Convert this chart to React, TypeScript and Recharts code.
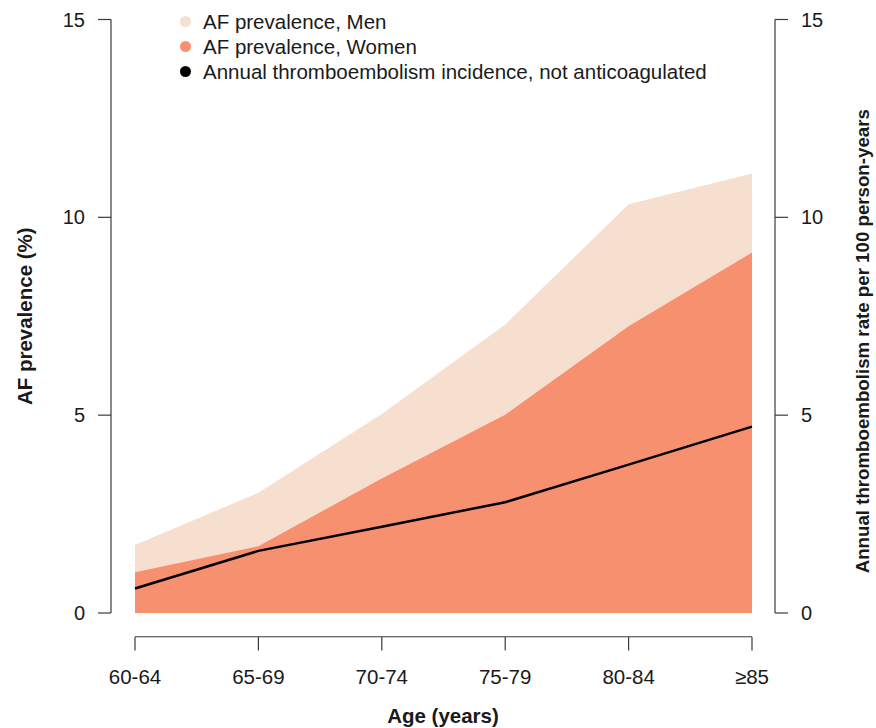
import React from "react";
import { ComposedChart, Area, Line, XAxis, YAxis, Legend, ReferenceLine, Label } from "recharts";

const AGE_GROUPS = ["60-64", "65-69", "70-74", "75-79", "80-84", "≥85"];
const AF_MEN = [1.72, 3.04, 5.03, 7.29, 10.33, 11.11];
const AF_WOMEN = [1.03, 1.69, 3.4, 5.01, 7.25, 9.11];
const TE_RATE = [0.62, 1.57, 2.18, 2.8, 3.75, 4.71];
const Y_TICKS = [0, 5, 10, 15];

const MEN_COLOR = "#f7dfd0";
const WOMEN_COLOR = "#f7906f";
const LINE_COLOR = "#000000";
const AXIS_COLOR = "#3a3a3a";
const TEXT_COLOR = "#1a1a1a";

const LEGEND_ITEMS = [
  { name: "AF prevalence, Men", color: MEN_COLOR },
  { name: "AF prevalence, Women", color: WOMEN_COLOR },
  { name: "Annual thromboembolism incidence, not anticoagulated", color: LINE_COLOR },
];

const data = AGE_GROUPS.map((age, i) => ({
  age,
  men: AF_MEN[i],
  women: AF_WOMEN[i],
  te: TE_RATE[i],
}));

// x axis sits detached below the plot, R style
function AgeTick(props: any) {
  const { x, y, payload } = props;
  return (
    <g>
      <line x1={x} x2={x} y1={y + 24} y2={y + 37.5} stroke={AXIS_COLOR} strokeWidth={1.2} />
      <text x={x} y={y + 71} textAnchor="middle" fontSize={20.5} fill={TEXT_COLOR}>
        {payload.value}
      </text>
    </g>
  );
}

// right title is a bit smaller and sits lower than the axis centre
function RightTitle(props: any) {
  const { viewBox } = props;
  const x = viewBox.x + viewBox.width - 14;
  const y = viewBox.y + viewBox.height / 2 + 25;
  return (
    <text
      x={x}
      y={y}
      transform={`rotate(-90, ${x}, ${y})`}
      textAnchor="middle"
      dominantBaseline="central"
      fontSize={18.7}
      fontWeight="bold"
      fill={TEXT_COLOR}
    >
      Annual thromboembolism rate per 100 person-years
    </text>
  );
}

function renderLegend() {
  return (
    <div style={{ fontSize: 20.5, lineHeight: "25px", color: TEXT_COLOR }}>
      {LEGEND_ITEMS.map((item) => (
        <div key={item.name} style={{ display: "flex", alignItems: "center", whiteSpace: "nowrap" }}>
          <span
            style={{
              display: "inline-block",
              width: 11,
              height: 11,
              borderRadius: "50%",
              background: item.color,
              marginRight: 12,
            }}
          />
          {item.name}
        </div>
      ))}
    </div>
  );
}

export default function App() {
  const tickStyle = { fontSize: 20, fill: TEXT_COLOR };
  return (
    <div
      style={{
        position: "absolute",
        left: 0,
        top: 0,
        width: 876,
        height: 728,
        background: "#fff",
        fontFamily: "'Liberation Sans', Arial, sans-serif",
      }}
    >
      <ComposedChart width={876} height={728} data={data} margin={{ top: 19.5, right: 0, bottom: 0, left: 0 }}>
        <XAxis
          dataKey="age"
          padding={{ left: 24, right: 23 }}
          height={115}
          axisLine={false}
          tickLine={false}
          tickSize={0}
          tickMargin={0}
          tick={<AgeTick />}
          interval={0}
          label={{
            value: "Age (years)",
            position: "insideBottom",
            offset: 5,
            style: { fontSize: 20.5, fontWeight: "bold", fill: TEXT_COLOR },
          }}
        />
        <YAxis
          yAxisId="left"
          width={111}
          domain={[0, 15]}
          ticks={Y_TICKS}
          allowDataOverflow
          axisLine={{ stroke: AXIS_COLOR, strokeWidth: 1.2 }}
          tickLine={{ stroke: AXIS_COLOR, strokeWidth: 1.2 }}
          tickSize={13}
          tickMargin={13}
          tick={tickStyle}
          label={{
            value: "AF prevalence (%)",
            angle: -90,
            position: "insideLeft",
            offset: 25,
            style: { textAnchor: "middle", fontSize: 20.5, fontWeight: "bold", fill: TEXT_COLOR },
          }}
        />
        <YAxis
          yAxisId="right"
          orientation="right"
          width={101}
          domain={[0, 15]}
          ticks={Y_TICKS}
          allowDataOverflow
          axisLine={{ stroke: AXIS_COLOR, strokeWidth: 1.2 }}
          tickLine={{ stroke: AXIS_COLOR, strokeWidth: 1.2 }}
          tickSize={13}
          tickMargin={13}
          tick={tickStyle}
        >
          <Label content={<RightTitle />} />
        </YAxis>
        <Legend
          layout="horizontal"
          verticalAlign="middle"
          align="center"
          content={renderLegend}
          wrapperStyle={{ top: 8.5, left: 180, width: "auto", height: "auto" }}
        />
        <Area
          yAxisId="left"
          type="linear"
          dataKey="men"
          name="AF prevalence, Men"
          fill={MEN_COLOR}
          fillOpacity={1}
          stroke="none"
          isAnimationActive={false}
          dot={false}
          activeDot={false}
        />
        <Area
          yAxisId="left"
          type="linear"
          dataKey="women"
          name="AF prevalence, Women"
          fill={WOMEN_COLOR}
          fillOpacity={1}
          stroke="none"
          isAnimationActive={false}
          dot={false}
          activeDot={false}
        />
        <Line
          yAxisId="right"
          type="linear"
          dataKey="te"
          name="Annual thromboembolism incidence, not anticoagulated"
          stroke={LINE_COLOR}
          strokeWidth={2.5}
          dot={false}
          activeDot={false}
          isAnimationActive={false}
        />
        <ReferenceLine
          yAxisId="left"
          ifOverflow="visible"
          segment={[
            { x: AGE_GROUPS[0], y: -0.6 },
            { x: AGE_GROUPS[AGE_GROUPS.length - 1], y: -0.6 },
          ]}
          stroke={AXIS_COLOR}
          strokeWidth={1.2}
        />
      </ComposedChart>
    </div>
  );
}
